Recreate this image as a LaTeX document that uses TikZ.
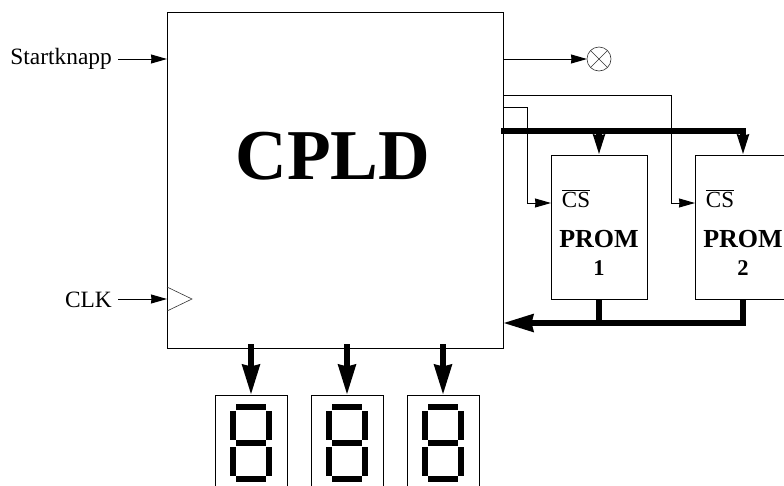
\documentclass[tikz,border=0pt]{standalone}
\usepackage{fontspec}
\setmainfont{Liberation Serif}
\usepackage{tikz}
\usetikzlibrary{arrows.meta,positioning,calc}
\tikzset{
  box/.style    = {draw=black, line width=1pt, outer sep=0pt, inner sep=0pt},
  chip/.style   = {box, minimum width=336pt, minimum height=336pt},
  prom/.style   = {box, minimum width=96pt, minimum height=144pt},
  display/.style = {box, minimum width=72pt, minimum height=120pt},
  lbl/.style    = {font=\fontsize{23.4}{23.4}\selectfont, inner ysep=0pt, inner xsep=6pt, text depth=0pt},
  promlbl/.style = {font=\fontsize{26}{28}\selectfont\bfseries, align=center, inner sep=0pt},
  cslbl/.style  = {font=\fontsize{23}{23}\selectfont, inner sep=0pt},
  flow/.style   = {-{Stealth[length=16pt,width=9pt,inset=0.5pt]}, line width=1pt},
  bus/.style    = {line width=6pt},
  busflow/.style = {bus, -{Stealth[length=30pt,width=17pt,inset=1.5pt]}},
  busin/.style  = {bus, -{Stealth[length=20pt,width=11pt,inset=1pt]}},
  seg/.style    = {line width=6pt},
  hair/.style   = {draw=black!80, line width=0.6pt},
}
\begin{document}
\begin{tikzpicture}[x=1pt,y=-1pt]
  \path[use as bounding box, clip] (0,0) rectangle (784,485);
  % main chip
  \node[chip] (cpld) at (335,180) {};
  \node[font=\fontsize{71.5}{71.5}\selectfont\bfseries, inner sep=0pt] (cpldtxt)
    at ([xshift=-2pt,yshift=24pt]cpld.center) {CPLD};
  % inputs
  \node[lbl, anchor=east, text height=10pt] (start) at (118,59) {Startknapp};
  \node[lbl, anchor=east, text height=16pt] (clk) at (118,299) {CLK};
  \draw[flow] (start) -- (cpld.west |- start);
  \draw[flow] (clk) -- (cpld.west |- clk);
  \coordinate (clkup) at ($(cpld.west |- clk)+(0,-12)$);
  \coordinate (clkdn) at ($(cpld.west |- clk)+(0,12)$);
  \coordinate (clktip) at ($(cpld.west |- clk)+(25,0)$);
  \draw[hair] (clkup) -- (clktip) -- (clkdn);
  % lamp
  \node[circle, hair, draw, minimum size=24pt, inner sep=0pt, outer sep=0pt] (lamp) at (599,59) {};
  \draw[hair] (lamp.45) -- (lamp.225);
  \draw[hair] (lamp.135) -- (lamp.315);
  \draw[flow] (cpld.east |- lamp) -- (lamp);
  % proms
  \node[prom, below right=143pt and 48pt of cpld.north east] (prom1) {};
  \node[prom, right=48pt of prom1] (prom2) {};
  \node[cslbl, anchor=base] (cs1) at ($(prom1.north west)+(25,52)$) {$\overline{\mbox{CS}}$};
  \node[cslbl, anchor=base] (cs2) at ($(prom2.north west)+(25,52)$) {$\overline{\mbox{CS}}$};
  \node[promlbl] (txt1) at ([yshift=-26pt]prom1.center) {PROM\\{\fontsize{22.5}{22.5}\selectfont 1}};
  \node[promlbl] (txt2) at ([yshift=-26pt]prom2.center) {PROM\\{\fontsize{22.5}{22.5}\selectfont 2}};
  % chip selects
  \coordinate (sel1) at ([yshift=-95pt]cpld.north east);
  \coordinate (sel2) at ([yshift=-83pt]cpld.north east);
  \coordinate (csin1) at ([yshift=24pt]prom1.west);
  \coordinate (csin2) at ([yshift=24pt]prom2.west);
  \draw[flow] (sel1) -- ++(24,0) |- (csin1);
  \draw[flow] (sel2) -- ++(168,0) |- (csin2);
  % address bus
  \coordinate (busout) at ([xshift=-2pt,yshift=-119pt]cpld.north east);
  \coordinate (busend) at ([xshift=3pt,yshift=24pt]prom2.north);
  \draw[bus] (busout) -- (busend);
  \draw[busin] (prom1.north |- busout) -- (prom1.north);
  \draw[busin] (prom2.north |- busout) -- (prom2.north);
  % data bus
  \coordinate (datain) at ([xshift=1pt,yshift=-24pt]prom2.south);
  \draw[bus] (prom1.south) -- (prom1.south |- datain);
  \draw[busflow] (prom2.south) |- (cpld.east |- datain);
  % displays
  \node[display, below right=47pt and 48pt of cpld.south west] (dig1) {};
  \node[display, right=24pt of dig1] (dig2) {};
  \node[display, right=24pt of dig2] (dig3) {};
  \foreach \d in {dig1,dig2,dig3} {
    \draw[busflow] ([yshift=51pt]\d.north) -- (\d.north);
    \begin{scope}[shift={(\d.north)}]
      \draw[seg] (-15,12) -- (15,12);
      \draw[seg] (-15,48) -- (15,48);
      \draw[seg] (-15,84) -- (15,84);
      \draw[seg] (-18,16) -- (-18,45);
      \draw[seg] (18,16) -- (18,45);
      \draw[seg] (-18,52) -- (-18,81);
      \draw[seg] (18,52) -- (18,81);
    \end{scope}
  }
\end{tikzpicture}
\end{document}
